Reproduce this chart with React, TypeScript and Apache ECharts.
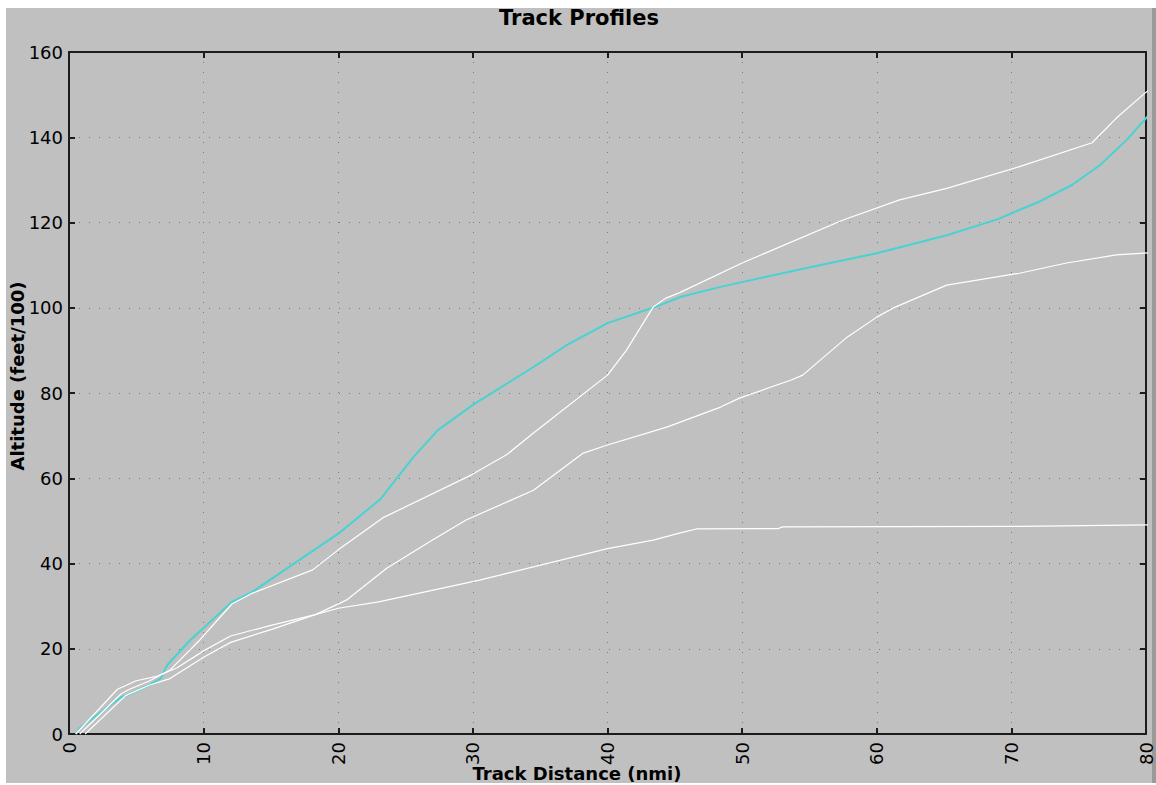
import React, { useEffect, useRef } from "react";
import * as echarts from "echarts";

// X ticks (nmi) and Y ticks (feet/100)
const xTicks = { min: 0, max: 80, step: 10 };
const yTicks = { min: 0, max: 160, step: 20 };

// Cyan (highlighted) track profile: [distance nmi, altitude feet/100]
const cyanProfile: number[][] = [
  [0.5, 0], [0.8, 1.4], [3.9, 8.7], [4.4, 9.2], [6, 11.5], [6.8, 13], [7.3, 16.2],
  [9, 22], [12.1, 31], [13.6, 33.3], [20, 47], [23.1, 55], [25.6, 65], [27.4, 71.3],
  [30, 77.2], [34.5, 86.1], [37, 91.3], [40, 96.4], [43.9, 100.6], [45.4, 102.5],
  [48.4, 104.9], [54, 108.8], [60, 112.8], [65.2, 117], [69, 120.8], [72, 124.8],
  [74.5, 128.8], [76.6, 133.5], [78.6, 139.5], [80.1, 144.8], [80.7, 147.6],
];

// White profile ending highest (~152)
const whiteProfileA: number[][] = [
  [0.8, 0], [3.9, 9.5], [4.5, 10.5], [6, 12.5], [7.5, 15], [9.7, 22], [12.1, 30.5],
  [13.6, 33], [18.1, 38.5], [20, 43.2], [23.3, 50.7], [29.9, 60.8], [32.5, 65.5],
  [34.5, 70.6], [40, 84.2], [41.4, 90], [43.4, 100.2], [44.3, 102.2], [45.4, 103.6],
  [50, 110.5], [57.5, 120.6], [61.7, 125.3], [65.2, 128], [70.6, 133.1], [76, 138.7],
  [77.8, 144.5], [79.9, 150.3], [80.7, 152.3],
];

// White profile ending ~113
const whiteProfileB: number[][] = [
  [0.5, 0], [3.6, 10.5], [5, 12.5], [6.5, 13.5], [8, 15.5], [10, 19.5], [12, 23],
  [15, 25.5], [18.3, 28], [20.6, 31.4], [23.6, 38.9], [27, 45.5], [29.5, 50.2],
  [34.5, 57.2], [38.2, 65.9], [40, 67.8], [44.4, 72], [48.4, 76.7], [49.8, 78.8],
  [53.6, 83], [54.5, 84.2], [57.8, 93.1], [60, 97.8], [61.2, 99.9], [65.2, 105.3],
  [70.6, 108.1], [74.1, 110.5], [77.8, 112.4], [80.7, 113],
];

// White profile levelling off ~49
const whiteProfileC: number[][] = [
  [1.2, 0], [4.2, 9], [6, 11.5], [7.5, 13], [10, 18], [12, 21.5], [15, 24.5],
  [18.3, 28], [20, 29.5], [23, 31], [30.5, 36.1], [40, 43.5], [43.4, 45.5],
  [45.4, 47.2], [46.6, 48.1], [52.7, 48.2], [53, 48.6], [70.6, 48.7], [80.7, 49.1],
];

const titleText = "Track Profiles";
const xName = "Track Distance (nmi)";
const yName = "Altitude (feet/100)";

const FONT = '"DejaVu Sans", sans-serif';
const AXIS_COLOR = "#1c1c1c";

export default function App() {
  const ref = useRef<HTMLDivElement>(null);
  useEffect(() => {
    if (!ref.current) return;
    const chart = echarts.init(ref.current, undefined, { renderer: "svg" });

    const axisLine = { show: true, onZero: false, lineStyle: { color: AXIS_COLOR, width: 2 } };
    const axisTick = { show: true, inside: true, length: 6, lineStyle: { color: AXIS_COLOR, width: 2 } };
    const splitLine = { show: true, lineStyle: { color: "#7a7a7a", width: 1, type: [1, 9] } };

    const lineSeries = (data: number[][], color: string, width: number, z: number) => ({
      type: "line",
      data,
      showSymbol: false,
      symbol: "none",
      clip: false,
      silent: true,
      z,
      lineStyle: { color, width },
    });

    chart.setOption({
      animation: false,
      backgroundColor: "#c0c0c0",
      grid: { left: 69, right: 10, top: 52, bottom: 51, containLabel: false, outerBoundsMode: "none" },
      xAxis: [
        {
          type: "value", position: "bottom", min: xTicks.min, max: xTicks.max, interval: xTicks.step,
          axisLine, axisTick, splitLine,
          axisLabel: { rotate: 90, margin: 8, color: "#000", fontFamily: FONT, fontSize: 18, showMinLabel: true, showMaxLabel: true },
        },
        {
          type: "value", position: "top", min: xTicks.min, max: xTicks.max, interval: xTicks.step,
          axisLine, axisTick, splitLine: { show: false }, axisLabel: { show: false },
        },
      ],
      yAxis: [
        {
          type: "value", position: "left", min: yTicks.min, max: yTicks.max, interval: yTicks.step,
          axisLine, axisTick, splitLine,
          axisLabel: { margin: 6, color: "#000", fontFamily: FONT, fontSize: 18, showMinLabel: true, showMaxLabel: true },
        },
        {
          type: "value", position: "right", min: yTicks.min, max: yTicks.max, interval: yTicks.step,
          axisLine, axisTick, splitLine: { show: false }, axisLabel: { show: false },
        },
      ],
      series: [
        lineSeries(cyanProfile, "#48d2d2", 2, 2),
        lineSeries(whiteProfileA, "#ffffff", 1.2, 3),
        lineSeries(whiteProfileB, "#ffffff", 1.2, 3),
        lineSeries(whiteProfileC, "#ffffff", 1.2, 3),
      ],
      graphic: [
        { type: "rect", z: -1, shape: { x: 0, y: 0, width: 1156, height: 8 }, style: { fill: "#ffffff" }, silent: true },
        { type: "rect", z: -1, shape: { x: 0, y: 0, width: 6, height: 785 }, style: { fill: "#ffffff" }, silent: true },
        { type: "rect", z: -1, shape: { x: 0, y: 783, width: 1156, height: 2 }, style: { fill: "#ffffff" }, silent: true },
        { type: "rect", z: -1, shape: { x: 1152, y: 8, width: 4, height: 775 }, style: { fill: "#9a9a9a" }, silent: true },
        {
          type: "text", x: 579, y: 18, silent: true,
          style: { text: titleText, fill: "#000", font: `bold 21px ${FONT}`, align: "center", verticalAlign: "middle" },
        },
        {
          type: "text", x: 577, y: 773, silent: true,
          style: { text: xName, fill: "#000", font: `bold 18px ${FONT}`, align: "center", verticalAlign: "middle" },
        },
        {
          type: "text", x: 17, y: 376, rotation: Math.PI / 2, silent: true,
          style: { text: yName, fill: "#000", font: `bold 18px ${FONT}`, align: "center", verticalAlign: "middle" },
        },
      ],
    });
    return () => chart.dispose();
  }, []);

  return (
    <div
      ref={ref}
      style={{ position: "absolute", left: 0, top: 0, width: 1156, height: 785 }}
    />
  );
}
